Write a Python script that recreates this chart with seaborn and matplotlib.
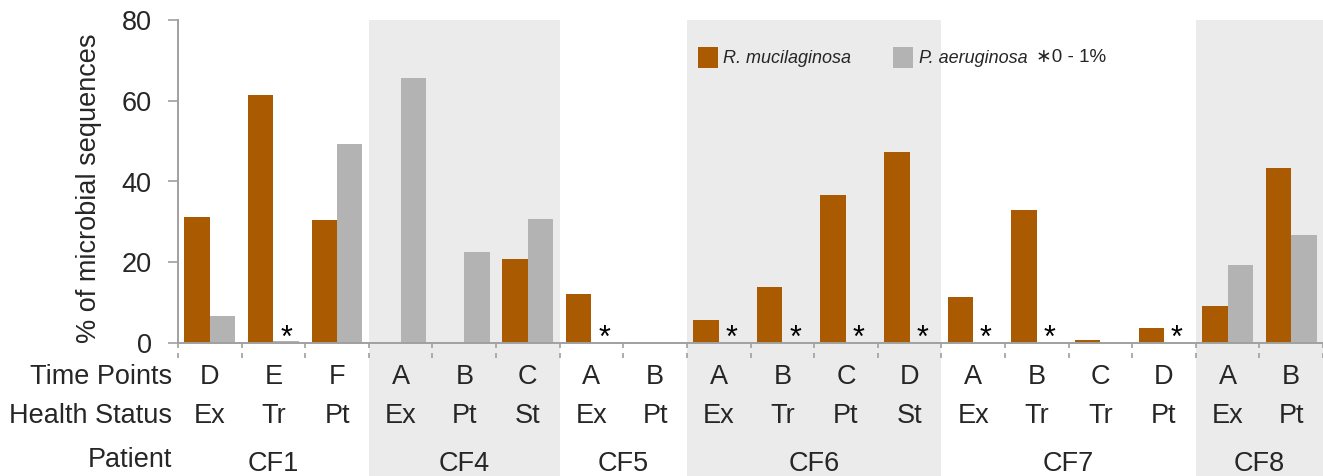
import matplotlib
matplotlib.use("Agg")
import matplotlib.pyplot as plt
from matplotlib.patches import Patch
from matplotlib.transforms import blended_transform_factory
import seaborn as sns
import pandas as pd

# ---- data ----
patients = ["CF1"] * 3 + ["CF4"] * 3 + ["CF5"] * 2 + ["CF6"] * 4 + ["CF7"] * 4 + ["CF8"] * 2
time_points = ["D", "E", "F", "A", "B", "C", "A", "B", "A", "B", "C", "D", "A", "B", "C", "D", "A", "B"]
health_status = ["Ex", "Tr", "Pt", "Ex", "Pt", "St", "Ex", "Pt", "Ex", "Tr", "Pt", "St",
                 "Ex", "Tr", "Tr", "Pt", "Ex", "Pt"]
r_mucilaginosa = [31.3, 61.5, 30.5, 0, 0, 20.7, 12.1, 0, 5.7, 13.8, 36.6, 47.3,
                  11.3, 33.0, 0.7, 3.8, 9.1, 43.3]
p_aeruginosa = [6.8, 0.5, 49.4, 65.6, 22.6, 30.6, 0.1, 0, 0.1, 0.1, 0.1, 0.1,
                0.1, 0.1, 0, 0.1, 19.2, 26.8]
low_abundance = [0, 1, 0, 0, 0, 0, 1, 0, 1, 1, 1, 1, 1, 1, 0, 1, 0, 0]
shaded_patients = ["CF4", "CF6", "CF8"]
species = ["R. mucilaginosa", "P. aeruginosa"]
colors = ["#AA5A00", "#B3B3B3"]

samples = [f"{p}-{t}" for p, t in zip(patients, time_points)]
df = pd.DataFrame({
    "sample": samples * 2,
    "species": [species[0]] * len(samples) + [species[1]] * len(samples),
    "pct": r_mucilaginosa + p_aeruginosa,
})

sns.set_theme(style="white")
plt.rcParams["font.family"] = ["Liberation Sans", "DejaVu Sans"]

W, H = 1323, 476
fig = plt.figure(figsize=(W / 100, H / 100), dpi=100)
ax = fig.add_axes([178 / W, (H - 343) / H, (W - 178) / W, (343 - 20) / H])

sns.barplot(data=df, x="sample", y="pct", hue="species", order=samples,
            hue_order=species, palette=colors, saturation=1, width=0.8,
            linewidth=0, legend=False, ax=ax)

n = len(samples)
ax.set_xlim(-0.5, n - 0.5)
ax.set_ylim(0, 80)
ax.set_yticks([0, 20, 40, 60, 80])
ax.tick_params(axis="y", labelsize=19.5, length=7, width=1.2, color="#A0A0A0",
               pad=12, left=True)
ax.set_xticks([])
ax.set_xlabel("")
ax.set_ylabel("% of microbial sequences", fontsize=19.5)
ax.yaxis.set_label_coords(-0.066, 0.48)

for side in ["top", "right"]:
    ax.spines[side].set_visible(False)
for side in ["left", "bottom"]:
    ax.spines[side].set_color("#A0A0A0")
    ax.spines[side].set_linewidth(1.4)

# shaded patient groups
groups = []
for i, p in enumerate(patients):
    if not groups or groups[-1][0] != p:
        groups.append([p, i, i])
    else:
        groups[-1][2] = i
for p, s, e in groups:
    if p in shaded_patients:
        ax.axvspan(s - 0.5, e + 0.5, ymin=-0.42, ymax=1.0, color="#EBEBEB",
                   zorder=0, clip_on=False, lw=0)

trans = blended_transform_factory(ax.transData, ax.transAxes)
# dashed separators
for b in range(n + 1):
    ax.plot([b - 0.5, b - 0.5], [0, -0.055], transform=trans, color="#A0A0A0",
            lw=1.2, ls=(0, (3, 3)), clip_on=False, zorder=3)

# stars for 0-1%
for i, f in enumerate(low_abundance):
    if f:
        ax.text(i + 0.2, 1.0, "*", ha="center", va="center", fontsize=22,
                color="black")

# label rows
row_y = {"Time Points": -0.105, "Health Status": -0.226, "Patient": -0.362}
for lab, y in row_y.items():
    ax.text(-0.005, y, lab, transform=ax.transAxes, ha="right", va="center",
            fontsize=19.5)
for i in range(n):
    ax.text(i, row_y["Time Points"], time_points[i], transform=trans,
            ha="center", va="center", fontsize=19.5)
    ax.text(i, row_y["Health Status"], health_status[i], transform=trans,
            ha="center", va="center", fontsize=19.5)
for p, s, e in groups:
    ax.text((s + e) / 2, -0.375, p, transform=trans, ha="center", va="center",
            fontsize=19.5)

# legend
handles = [Patch(facecolor=c, edgecolor="none", label=s) for c, s in zip(colors, species)]
leg = ax.legend(handles=handles, loc="center left", bbox_to_anchor=(0.454, 0.885),
                ncol=2, frameon=False, prop={"size": 13, "style": "italic"},
                handlelength=1.1, handleheight=1.4, handletextpad=0.32,
                columnspacing=2.3, borderpad=0, borderaxespad=0)
ax.text((1036 - 178) / 1145, 0.885, "∗0 - 1%", transform=ax.transAxes,
        ha="left", va="center", fontsize=13.5)

fig.savefig("out.png", dpi=100)
